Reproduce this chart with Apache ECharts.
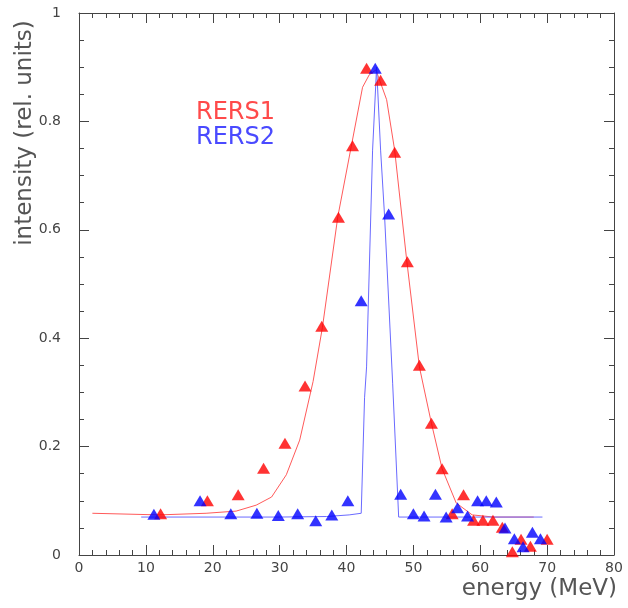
<!DOCTYPE html>
<html>
<head>
<meta charset="utf-8">
<script src="https://cdn.jsdelivr.net/npm/echarts@6/dist/echarts.min.js"></script>
<style>
  html, body { margin: 0; padding: 0; background: #fff; }
  #main { width: 628px; height: 608px; }
</style>
</head>
<body>
<div id="main"></div>
<script>
// measured points, [energy, intensity]
const rers1Points = [
  [12.2, 0.076], [19.2, 0.100], [23.8, 0.111], [27.6, 0.160], [30.8, 0.206],
  [33.8, 0.312], [36.3, 0.422], [38.8, 0.623], [40.9, 0.755], [43.0, 0.898],
  [45.1, 0.876], [47.2, 0.743], [49.1, 0.541], [50.9, 0.350], [52.7, 0.243],
  [54.3, 0.159], [55.8, 0.076], [57.5, 0.111], [59.0, 0.064], [60.4, 0.064],
  [61.9, 0.064], [63.3, 0.051], [64.8, 0.006], [66.1, 0.029], [67.5, 0.016],
  [70.0, 0.029]
];
const rers2Points = [
  [11.2, 0.075], [18.1, 0.100], [22.7, 0.076], [26.6, 0.077], [29.8, 0.073],
  [32.7, 0.076], [35.4, 0.063], [37.8, 0.074], [40.2, 0.100], [42.2, 0.469],
  [44.3, 0.898], [46.3, 0.629], [48.1, 0.112], [50.0, 0.076], [51.6, 0.072],
  [53.3, 0.112], [54.9, 0.070], [56.6, 0.087], [58.1, 0.072], [59.6, 0.100],
  [60.9, 0.100], [62.4, 0.098], [63.7, 0.050], [65.1, 0.030], [66.4, 0.015],
  [67.8, 0.042], [69.0, 0.030]
];
// fitted curves
const rers1Curve = [
  [2, 0.077], [12, 0.074], [19, 0.077], [23.5, 0.081], [26.5, 0.092],
  [28.8, 0.107], [31, 0.148], [33, 0.212], [35, 0.32], [36.4, 0.42],
  [38.7, 0.624], [40.7, 0.753], [42.4, 0.863], [43.4, 0.886], [44.4, 0.895],
  [46, 0.84], [47.2, 0.747], [49, 0.544], [50.9, 0.347], [52.7, 0.243],
  [54.3, 0.159], [56.4, 0.096], [58.8, 0.074], [62, 0.07], [68, 0.07]
];
const rers2Curve = [
  [9.3, 0.070], [30, 0.070], [37, 0.071], [40.4, 0.074], [42.2, 0.077],
  [42.7, 0.29], [43, 0.347], [43.9, 0.747], [44.5, 0.9], [45.1, 0.747],
  [45.7, 0.624], [46.9, 0.317], [47.8, 0.070], [69.3, 0.070]
];
const xTicks = { min: 0, max: 80, step: 10 };
const yTicks = { min: 0, max: 1, step: 0.2 };

const fontFamily = 'DejaVu Sans';
const axisColor = '#444';

let myChart = echarts.init(document.getElementById('main'));

const baseX = {
  type: 'value',
  min: xTicks.min,
  max: xTicks.max,
  interval: xTicks.step,
  axisLine: { show: true, onZero: false, lineStyle: { color: axisColor, width: 1 } },
  axisTick: { show: true, inside: true, length: 10, lineStyle: { color: axisColor } },
  minorTick: { show: true, splitNumber: 5, length: 5, lineStyle: { color: axisColor } },
  splitLine: { show: false }
};
const baseY = {
  type: 'value',
  min: yTicks.min,
  max: yTicks.max,
  interval: yTicks.step,
  axisLine: { show: true, onZero: false, lineStyle: { color: axisColor, width: 1 } },
  axisTick: { show: true, inside: true, length: 10, lineStyle: { color: axisColor } },
  minorTick: { show: true, splitNumber: 4, length: 5, lineStyle: { color: axisColor } },
  splitLine: { show: false }
};

const option = {
  animation: false,
  backgroundColor: '#fff',
  grid: { left: 79, right: 14, top: 13, bottom: 53 },
  xAxis: [
    Object.assign({}, baseX, {
      position: 'bottom',
      axisLabel: { color: '#444', fontSize: 14, fontFamily: fontFamily, margin: 6 }
    }),
    Object.assign({}, baseX, { position: 'top', axisLabel: { show: false } })
  ],
  yAxis: [
    Object.assign({}, baseY, {
      position: 'left',
      axisLabel: { color: '#444', fontSize: 14, fontFamily: fontFamily, margin: 18 }
    }),
    Object.assign({}, baseY, { position: 'right', axisLabel: { show: false } })
  ],
  series: [
    {
      name: 'RERS1 fit',
      type: 'line',
      data: rers1Curve,
      showSymbol: false,
      smooth: false,
      lineStyle: { color: '#ff5a5a', width: 1 },
      z: 2
    },
    {
      name: 'RERS2 fit',
      type: 'line',
      data: rers2Curve,
      showSymbol: false,
      smooth: false,
      lineStyle: { color: '#6a6aff', width: 1 },
      z: 2
    },
    {
      name: 'RERS1',
      type: 'scatter',
      data: rers1Points,
      symbol: 'triangle',
      symbolSize: [13, 11],
      itemStyle: { color: '#ff0000' },
      z: 3
    },
    {
      name: 'RERS2',
      type: 'scatter',
      data: rers2Points,
      symbol: 'triangle',
      symbolSize: [13, 11],
      itemStyle: { color: '#0000ff' },
      z: 4
    }
  ],
  graphic: [
    {
      type: 'text',
      x: 25, y: 133,
      rotation: Math.PI / 2,
      style: {
        text: 'intensity (rel. units)', fill: '#555', fontSize: 23,
        fontFamily: fontFamily, align: 'center', verticalAlign: 'middle'
      }
    },
    {
      type: 'text',
      x: 617, y: 589,
      style: {
        text: 'energy (MeV)', fill: '#555', fontSize: 23,
        fontFamily: fontFamily, align: 'right', verticalAlign: 'middle'
      }
    },
    {
      type: 'text',
      x: 196, y: 113,
      style: {
        text: 'RERS1', fill: '#ff4a4a', fontSize: 24,
        fontFamily: fontFamily, align: 'left', verticalAlign: 'middle'
      }
    },
    {
      type: 'text',
      x: 196, y: 138,
      style: {
        text: 'RERS2', fill: '#4a4aff', fontSize: 24,
        fontFamily: fontFamily, align: 'left', verticalAlign: 'middle'
      }
    }
  ]
};
myChart.setOption(option);
</script>
</body>
</html>
